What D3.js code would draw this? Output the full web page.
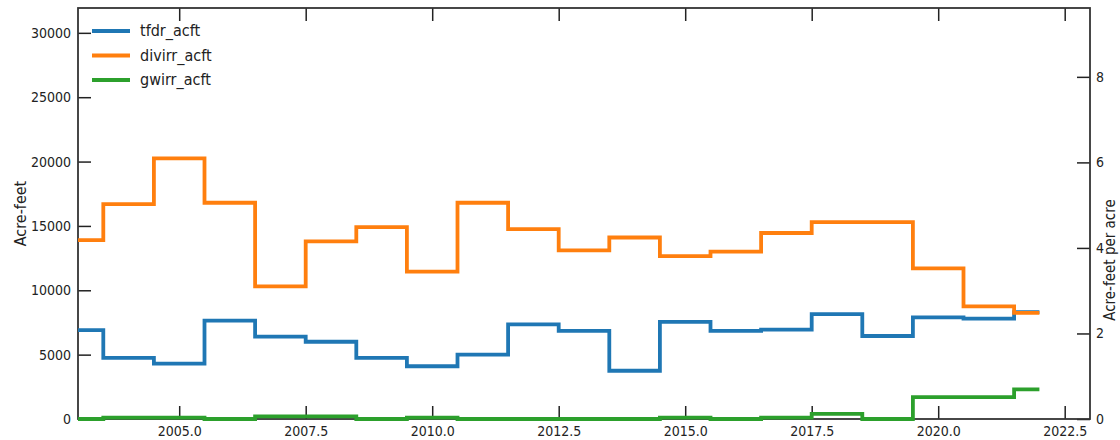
<!DOCTYPE html>
<html>
<head>
<meta charset="utf-8">
<script src="https://cdn.jsdelivr.net/npm/d3@7"></script>
<style>
  body { margin: 0; background: #fff; }
  #chart { width: 1120px; height: 440px; }
  text { font-family: "Liberation Sans Narrow", "Arial Narrow", "DejaVu Sans Condensed", sans-serif; fill: #222; }
</style>
</head>
<body>
<div id="chart"></div>
<script>
// Water use by year (acre-feet)
const years = [2003, 2004, 2005, 2006, 2007, 2008, 2009, 2010, 2011, 2012,
               2013, 2014, 2015, 2016, 2017, 2018, 2019, 2020, 2021, 2022];
const tfdrAcft = [6900, 4750, 4300, 7650, 6400, 6000, 4750, 4100, 5000, 7350,
                  6850, 3750, 7550, 6850, 6950, 8150, 6450, 7900, 7800, 8300];
const divirrAcft = [13900, 16700, 20250, 16800, 10300, 13800, 14900, 11450, 16800, 14750,
                    13100, 14100, 12650, 13000, 14450, 15300, 15300, 11700, 8750, 8250];
const gwirrAcft = [0, 100, 100, 0, 200, 200, 0, 100, 0, 0,
                   0, 0, 100, 0, 100, 400, 0, 1700, 1700, 2300];

const seriesNames = ["tfdr_acft", "divirr_acft", "gwirr_acft"];
const seriesValues = [tfdrAcft, divirrAcft, gwirrAcft];

const xTicks = [2005.0, 2007.5, 2010.0, 2012.5, 2015.0, 2017.5, 2020.0, 2022.5];
const yLeftTicks = [0, 5000, 10000, 15000, 20000, 25000, 30000];
const yRightTicks = [0, 2, 4, 6, 8];

// Layout
const margin = { top: 8, right: 30, bottom: 21, left: 78 };
const fullW = 1120, fullH = 440;
const width = fullW - margin.left - margin.right;
const height = fullH - margin.top - margin.bottom;

const svg = d3.select("#chart")
    .append("svg")
    .attr("width", fullW)
    .attr("height", fullH)
    .append("g")
    .attr("transform", `translate(${margin.left},${margin.top})`);

// Scales
const x = d3.scaleLinear().domain([2003, 2023]).range([0, width]);
const y = d3.scaleLinear().domain([0, 31930]).range([height, 0]);
const yRight = d3.scaleLinear().domain([0, 9.61]).range([height, 0]);

const color = d3.scaleOrdinal()
    .domain(seriesNames)
    .range(["#1f77b4", "#ff7f0e", "#2ca02c"]);

// Axes (ticks point inward)
const tickLen = 13;

svg.append("g")
    .attr("transform", `translate(0,${height})`)
    .call(d3.axisBottom(x).tickValues(xTicks).tickFormat(d3.format(".1f"))
        .tickSizeInner(-tickLen).tickSizeOuter(0).tickPadding(7))
    .call(g => g.select(".domain").remove());

svg.append("g")
    .call(d3.axisTop(x).tickValues(xTicks).tickFormat("")
        .tickSizeInner(-tickLen).tickSizeOuter(0))
    .call(g => g.select(".domain").remove());

svg.append("g")
    .call(d3.axisLeft(y).tickValues(yLeftTicks).tickFormat(d3.format("d"))
        .tickSizeInner(-tickLen).tickSizeOuter(0).tickPadding(7))
    .call(g => g.select(".domain").remove());

svg.append("g")
    .attr("transform", `translate(${width},0)`)
    .call(d3.axisRight(yRight).tickValues(yRightTicks).tickFormat(d3.format("d"))
        .tickSizeInner(-tickLen).tickSizeOuter(0).tickPadding(6))
    .call(g => g.select(".domain").remove());

svg.selectAll(".tick line").attr("stroke", "#222").attr("stroke-width", 1.5);
svg.selectAll(".tick text")
    .style("font-size", "14px")
    .style("font-family", "'Liberation Sans Narrow', 'Arial Narrow', 'DejaVu Sans Condensed', sans-serif")
    .attr("fill", "#222");

// Frame
svg.append("rect")
    .attr("width", width)
    .attr("height", height)
    .attr("fill", "none")
    .attr("stroke", "#333")
    .attr("stroke-width", 1.8);

// Step lines
const line = d3.line()
    .x((d, i) => x(years[i]))
    .y(d => y(d))
    .curve(d3.curveStep);

seriesValues.forEach((vals, i) => {
    svg.append("path")
        .datum(vals)
        .attr("fill", "none")
        .attr("stroke", color(seriesNames[i]))
        .attr("stroke-width", 3.8)
        .attr("d", line);
});

// Axis labels
svg.append("text")
    .attr("transform", "rotate(-90)")
    .attr("x", -height / 2)
    .attr("y", -margin.left + 26)
    .attr("text-anchor", "middle")
    .style("font-size", "16px")
    .text("Acre-feet");

svg.append("text")
    .attr("transform", "rotate(-90)")
    .attr("x", -252)
    .attr("y", width + 25)
    .attr("text-anchor", "middle")
    .style("font-size", "15px")
    .text("Acre-feet per acre");

// Legend
const legend = svg.append("g").attr("transform", "translate(14,23)");
seriesNames.forEach((name, i) => {
    const row = legend.append("g").attr("transform", `translate(0,${i * 24.5})`);
    row.append("line")
        .attr("x1", 0).attr("x2", 38)
        .attr("stroke", color(name))
        .attr("stroke-width", 3.8);
    row.append("text")
        .attr("x", 48)
        .attr("y", 5)
        .style("font-size", "16px")
        .text(name);
});
</script>
</body>
</html>
